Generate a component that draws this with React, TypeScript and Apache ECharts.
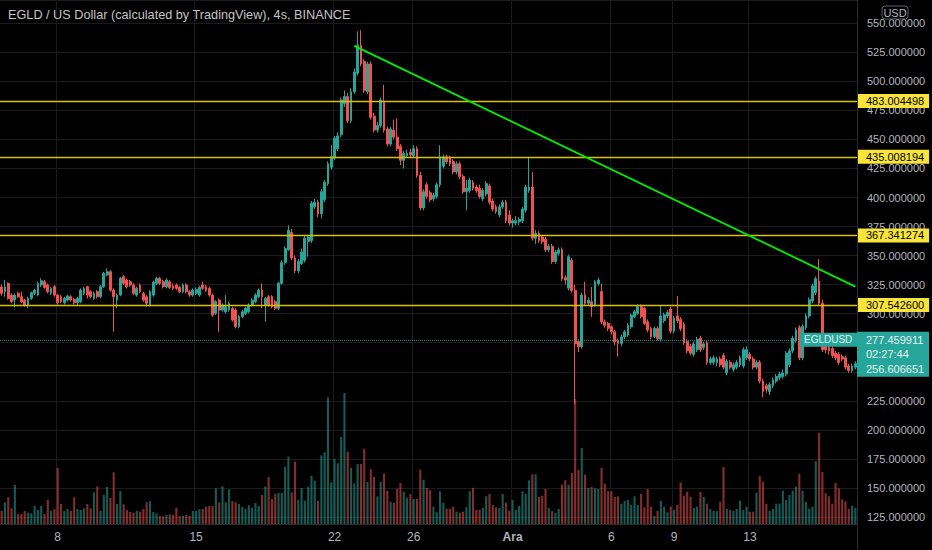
import React, { useEffect, useRef } from "react";
import * as echarts from "echarts";

const TITLE = "EGLD / US Dollar (calculated by TradingView), 4s, BINANCE";

// 4h candles: [open, close, low, high]
const OHLC: [number, number, number, number][] = [
  [323,317.5,315.5,325],[319,323,314.5,329],[326,313,312,327],[316,310.3,309,317.5],[311.7,316,305.4,317.5],
  [317.5,314.6,313.5,319],[314.6,310.3,309,319],[311.7,307.4,306,313],[307.4,313.2,304.6,314.6],[313.2,318,312,319],
  [317.5,320.3,316,321.5],[316,326.1,315,327.5],[324.7,328.4,323,330.5],[327.5,322.6,321.5,329],[324.7,318.9,317.5,326],
  [317.5,321.8,316,323],[323.2,316,314.6,324.5],[316,309.4,308,317],[314.6,310.3,309,316],[309.4,313.2,308,314.6],
  [311.7,315.2,310.3,316.5],[314.6,311.7,310.3,316],[312.3,309.4,308,313.5],[309.4,313.2,307.4,314.6],[310.3,320.3,309,321.8],
  [317.5,321.8,316,323.2],[323.2,316,313.2,323.8],[318.9,314.6,313.2,320.3],[313.2,317.5,312,318.9],[318.9,314.6,313.2,320.3],
  [314.6,323.2,313.2,324.7],[323.2,334.7,322,336],[333.3,336.1,332,339],[336.1,320.3,319,337.5],[320.3,314.6,284.5,321.8],
  [311.7,316,304.6,317.5],[316,330.4,315,331.8],[331.8,326.1,324.7,333.3],[329,323.2,321.8,330.4],[327.5,324.7,323.2,329],
  [324.7,317.5,316,326.1],[316,321.8,314.6,323.2],[324.7,318.9,317.5,326.1],[317.5,311.7,310.3,318.9],[314.6,308.9,306,316],
  [307.4,318.9,306,320.3],[316,327,314.6,328.4],[326.1,330.4,324.7,331.8],[330.4,326.1,324.7,331.8],[327.5,323.2,321.8,329],
  [323.2,329,321.8,330.4],[327.5,322.6,321.2,329],[323.8,321.8,320.3,326.1],[324.7,321.8,320.3,326.1],[322.6,318.9,317.5,323.8],
  [318.9,324.7,317.5,326.1],[324.7,318.9,317.5,326.1],[318.9,316,314.6,320.3],[316,320.3,314.6,321.8],[317.5,320.9,316,322.6],
  [316,322.6,314.6,324],[324.7,321.8,320.3,327.5],[323.2,320.3,318.9,324.7],[321.8,316,314.6,323.2],[316,298.8,297.4,317.5],
  [300.3,310.3,298.8,311.7],[311.7,303.1,284.5,313.2],[303.1,307.4,301.7,308.9],[301.7,306,300.3,316],[303.1,308.9,301.7,310.3],
  [304.6,294.5,293.1,306],[303.1,288.8,287.4,304.6],[288.8,297.4,287.4,298.8],[297.4,301.7,296,303.1],[300.3,304.6,298.8,306],
  [301.7,307.4,300.3,308.9],[307.4,311.7,306,313.2],[310.3,316,308.9,317.5],[314.6,320.3,313.2,321.8],[320.3,314.6,304.6,326.1],
  [307.4,313.2,293.1,314.6],[314.6,307.4,306,316],[314.6,306,304.6,316],[310.3,304.6,303.1,311.7],[304.6,326.1,303.1,327.5],
  [326.1,344,325,346],[344,356,342,358],
  [355,372,354,376],[370,348,346,373],[348,337,335,350],[337,345,335,347],[343,353,342,356],
  [346,365,344,367],[362,366,349,368],[363,395,361,397],[392,396,390,399],[396,386,383,398],
  [386,405,382,407],[398,413,396,415],[412,429,410,431],[426,435,424,445],[434,451,432,453],
  [442,453,440,456],[454,484,452,486],[481,487,478,492],[487,466,464,490],[466,491,464,494],
  [491,508,489,511],[507,531,505,543],[531,515,513,544],[517,492,490,519],[491,515,489,517],
  [515,469,467,517],[470,458,456,473],[458,462,456,465],[462,484,460,486],[482,458,456,497],
  [459,446,444,461],[446,459,444,461],[458,452,450,467],[452,442,440,468],[444,432,428,446],
  [432,438,425,440],[436,438,434,441],[439,437,434,442],[436,442,434,445],[442,419,417,444],
  [419,391,389,422],[391,405,389,407],[411,401,399,413],[404,398,396,406],[399,402,397,404],
  [401,411,399,413],[411,435,409,445],[427,435,425,437],[435,431,429,437],[434,429,427,436],
  [431,422,420,433],[422,429,420,431],[429,418,416,431],[418,405,403,420],
  [405,408,389,415],[406,415,404,417],[413,408,406,415],[409,406,404,411],[408,401,399,411],
  [399,406,397,408],[403,412,401,414],[410,396,394,412],[397,390,388,399],[392,388,386,394],
  [385,392,383,394],[392,396,390,398],[396,380,378,398],[385,378,376,389],[378,380,374,382],
  [378,380,376,384],[379,381,376,383],[380,390,378,392],[389,409,387,411],[406,409,404,435],
  [409,365,363,422],[365,369,360,372],[369,363,361,371],[366,362,360,368],[364,355,353,366],
  [355,358,353,360],[358,345,343,360],[345,353,343,355],[352,355,350,357],[355,330,328,357],
  [331,329,325,333],[322,349,320,351],[346,320,318,348],[320,274,222,325],[276,271.5,267,278],
  [271.5,316,270,318],[316,309,307,327.5],[309,311.7,307,314],[310.3,306,297.3,323],[307.4,327.5,306,329],
  [326,329,324,331],[319,293,291,326],[293,290,288,295],[291.5,287.5,285,293],[288.7,284.4,282,290],
  [284.4,275.8,273,286],[277,274.4,263,278.5],[274.4,280,272,282],[280,284.4,278,286],[281.6,290,280,292],
  [288.7,298.8,287,300],[297.3,301.7,296,303],[300.2,306,299,308],[306,297.3,296,308],[304.5,291.6,290,306],
  [293,285.9,284,295],[287.3,280.1,278,289],[280.1,287.3,279,289],[287.3,278.7,277,289],
  [278,298,276,307],[294,299,292,301],[298,301,296,303],[304,285,283,306],[285,296,283,298],
  [298,294,292,315],[295,287,285,297],[291,275,273,293],[276,268,266,278],[272,266,264,274],
  [265,274,263,276],[269,278,267,280],[279,269,267,281],[271,274,269,276],[275,258,256,277],
  [258,261,256,263],[258,262,256,264],[258,261,255,263],[261,256,254,263],[264,254,252,266],
  [249,259,247,261],[258,254,252,260],[252,256,250,258],[254,258,252,260],[256,262,254,264],
  [255,269,253,271],[262,269,260,272],[265,261,259,267],[261,254,252,263],[254,258,252,260],
  [258,242,240,260],[242,233,228,244],[238,235,232,240],[233,239,230,241],[238,243,236,245],
  [242,246,240,248],[245,248,243,250],[246,249,244,252],[248,266,246,268],[256,268,254,270],
  [268,279,266,281],[277,286,275,288],[288,262,260,290],[262,289,260,291],[288,298,286,300],
  [298,312,296,314],[311,324,309,326],[318,330,316,332],[328,309,307,347],[309,269,267,312],
  [272,269,266,274],[271,268,265,273],[270,264,262,272],[266,262,260,268],[265,258,256,267],
  [263,261,259,265],[262,254,252,264],[255,251,249,257],[251,255,249,257],[254,257,252,259],
];

// volume per candle (relative units)
const VOLUMES: number[] = [
  13.3,21.7,26.7,15.7,39,10,10,13,11.3,10.7,
  18,14,18,10,24,13.3,15,56,20,13,
  15,13.3,26.7,15,14,15.7,20,15.7,31.7,37.7,
  13.3,29,37,26,51.7,20,33,19.7,14,12,
  11.3,13.3,12.3,15,21.7,23,12,10.7,8,7.7,
  9,9.7,9.3,16.3,8,8,9,8.3,13,13.3,
  14.7,15,17.3,18,18,35.7,21.7,37.7,21.7,34.7,
  23,21.7,20,17,15,18.7,16.3,21,18,29,
  37.7,47,25,30.3,31,31,57.3,67.3,
  31.7,62.3,24.3,36,23.3,37.3,48.3,43.3,23.3,68.7,
  71.7,126.7,41.7,65.3,60.7,87,131,72.3,56.3,40.7,
  60,60,75.3,42,54.7,47,27.7,42,50.3,33,
  22.3,21.3,35.3,41,32.3,26.3,30,25,25,54.3,
  44.3,36,33.7,17.3,11.7,32.7,21.3,15.3,15.3,17.3,
  12.3,11.3,12.3,16.7,32.7,36,14,14,16,27.7,
  30,19,16.7,16,30,21.3,13.3,24,14.3,18,
  32.7,30,43.7,49.7,49.7,27,28.3,35,16,13,
  11.3,15,39.3,43.7,39.3,51,
  125,54.3,76,49.3,36,37,35.7,35,56,40.3,
  32.7,32.7,27,27.7,20.3,23,24,19.3,27.7,19,
  30,16.7,35,17.3,8,13.3,23.3,17.3,11.7,17.3,
  14,19,41.7,28.3,32.3,27,16,17.3,32,27,
  20.3,15,13,13,22.3,57,15,14,13.3,15,
  23.3,14,17.3,12.3,12.3,31.3,48.3,42.3,20.3,13.3,
  15,20.3,20.3,33.3,24,29,33.3,37.3,50.3,33.3,
  22,15.3,17.3,62.7,91.3,52,30.7,27.7,20.3,41,
  35.7,24.7,22.7,15.3,18.3,16,
];

// time axis labels: [candle index, label]
const TIME_TICKS: [number, string][] = [
  [17, "8"], [59, "15"], [101, "22"], [125, "26"], [155, "Ara"], [185, "6"], [204, "9"], [227, "13"],
];

// price-axis labels hidden under the last-price box in the reference
const COVERED_PRICE_LABELS: number[] = [275, 250];

const LEVELS: number[] = [483.004498, 435.008194, 367.341274, 307.5426];
const TREND_START: [number, number] = [107, 530.5];
const TREND_END: [number, number] = [259, 323.3];
const LAST_PRICE = 277.459911;
const LAST_PRICE_TEXT = "277.459911";
const COUNTDOWN_TEXT = "02:27:44";
const SECOND_PRICE_TEXT = "256.606651";
const SYMBOL = "EGLDUSD";
const CURRENCY = "USD";

const PRICE_MIN = 125;
const PRICE_MAX = 570;
const PRICE_STEP = 25;
const VOLUME_AXIS_MAX = 524;

const UP = "#26a69a";
const DOWN = "#ef5350";
const TEXT = "#b2b5be";
const GRID_LINE = "#1b1b1b";
const LEVEL_LINE = "#d9c100";
const FONT = "'Liberation Sans', Arial, sans-serif";

export default function App() {
  const ref = useRef<HTMLDivElement>(null);

  useEffect(() => {
    if (!ref.current) return;
    const chart = echarts.init(ref.current, null, { renderer: "svg" });
    const categories = OHLC.map((_, i) => String(i));
    const tickMap = new Map<number, string>(TIME_TICKS);
    const isTick = (idx: number) => tickMap.has(idx);

    chart.setOption({
      animation: false,
      backgroundColor: "#000000",
      textStyle: { fontFamily: FONT },
      grid: [
        { left: 0, right: 75, top: 0, bottom: 33, outerBoundsMode: "none" },
        { left: 0, right: 75, top: 0, bottom: 26, outerBoundsMode: "none" },
      ],
      xAxis: [
        { type: "category", gridIndex: 0, data: categories, show: false },
        {
          type: "category",
          gridIndex: 1,
          data: categories,
          axisLine: { show: true, lineStyle: { color: "#2c2c2c" } },
          axisTick: { show: false },
          axisLabel: {
            interval: (idx: number) => isTick(idx),
            formatter: (_v: string, idx: number) => {
              const t = tickMap.get(idx);
              if (t === undefined) return "";
              return t === "Ara" ? "{b|Ara}" : t;
            },
            color: TEXT,
            fontSize: 12,
            margin: 7,
            rich: { b: { fontWeight: "bold", color: TEXT, fontSize: 12, fontFamily: FONT } },
          },
          splitLine: {
            show: true,
            interval: (idx: number) => isTick(idx),
            lineStyle: { color: GRID_LINE, width: 1 },
          },
        },
      ],
      yAxis: [
        {
          type: "value",
          gridIndex: 0,
          position: "right",
          min: PRICE_MIN,
          max: PRICE_MAX,
          interval: PRICE_STEP,
          axisLine: { show: false },
          axisTick: { show: false },
          splitLine: { show: true, lineStyle: { color: GRID_LINE, width: 1 } },
          axisLabel: {
            color: TEXT,
            fontSize: 11,
            margin: 10,
            showMaxLabel: false,
            formatter: (v: number) =>
              Math.abs(v % PRICE_STEP) < 1e-6 && !COVERED_PRICE_LABELS.includes(v)
                ? v.toFixed(6)
                : "",
          },
        },
        { type: "value", gridIndex: 1, min: 0, max: VOLUME_AXIS_MAX, show: false },
      ],
      series: [
        {
          type: "bar",
          name: "Volume",
          xAxisIndex: 1,
          yAxisIndex: 1,
          barWidth: "64%",
          silent: true,
          z: 1,
          data: VOLUMES.map((v, i) => {
            const c = OHLC[i];
            const up = c ? c[1] >= c[0] : true;
            return {
              value: v,
              itemStyle: { color: up ? "rgba(38,166,154,0.55)" : "rgba(239,83,80,0.55)" },
            };
          }),
        },
        {
          type: "candlestick",
          name: "EGLDUSD",
          xAxisIndex: 0,
          yAxisIndex: 0,
          barWidth: "70%",
          silent: true,
          z: 3,
          itemStyle: {
            color: UP,
            color0: DOWN,
            borderColor: UP,
            borderColor0: DOWN,
            borderWidth: 1,
          },
          data: OHLC,
          markLine: {
            silent: true,
            symbol: ["none", "none"],
            animation: false,
            lineStyle: { color: LEVEL_LINE, width: 1.3, type: "solid", opacity: 1 },
            emphasis: { disabled: true },
            data: [
              ...LEVELS.map((v) => ({
                yAxis: v,
                lineStyle: { color: LEVEL_LINE, width: 1.3, type: "solid", opacity: 1 },
                label: {
                  show: true,
                  position: "end",
                  distance: 0,
                  formatter: v.toFixed(6),
                  backgroundColor: "#f9e43a",
                  color: "#000000",
                  fontSize: 11,
                  fontFamily: FONT,
                  padding: [2, 5, 1, 9],
                },
              })),
              {
                yAxis: LAST_PRICE,
                lineStyle: { color: "rgba(38,166,154,0.85)", width: 1, type: "dotted" },
                label: { show: false },
              },
              [
                {
                  coord: TREND_START,
                  lineStyle: { color: "#00ee00", width: 1.8, type: "solid" },
                  label: { show: false },
                },
                { coord: TREND_END },
              ],
            ],
          },
        },
      ],
    });

    const yLast = chart.convertToPixel({ yAxisIndex: 0 }, LAST_PRICE) as number;
    const txt = (x: number, y: number, text: string, fill: string, size: number, align = "left", weight = "normal") => ({
      type: "text",
      x,
      y,
      z: 100,
      silent: true,
      style: {
        text,
        fill,
        fontSize: size,
        fontFamily: FONT,
        fontWeight: weight,
        textAlign: align,
        align,
        textVerticalAlign: "middle",
        verticalAlign: "middle",
      },
    });

    chart.setOption({
      graphic: {
        elements: [
          txt(8, 15, TITLE, "#c4c4c4", 12.7),
          {
            type: "line",
            z: 90,
            silent: true,
            shape: { x1: 857.5, y1: 0, x2: 857.5, y2: 550 },
            style: { stroke: "#2c2c2c", lineWidth: 1 },
          },
          {
            type: "rect",
            z: 99,
            silent: true,
            shape: { x: 882, y: 6, width: 26, height: 13, r: 3 },
            style: { fill: "#000000", stroke: "#5d606b", lineWidth: 1 },
          },
          txt(895, 12.8, CURRENCY, TEXT, 11, "center"),
          {
            type: "rect",
            z: 99,
            silent: true,
            shape: { x: 800, y: yLast - 7, width: 57, height: 14 },
            style: { fill: UP },
          },
          txt(804, yLast, SYMBOL, "#e4f2ef", 10),
          {
            type: "rect",
            z: 99,
            silent: true,
            shape: { x: 857, y: yLast - 8, width: 72, height: 45 },
            style: { fill: UP },
          },
          txt(866, yLast, LAST_PRICE_TEXT, "#e4f2ef", 11),
          txt(866, yLast + 14.5, COUNTDOWN_TEXT, "#e4f2ef", 11),
          txt(866, yLast + 29, SECOND_PRICE_TEXT, "#e4f2ef", 11),
        ],
      },
    });

    return () => chart.dispose();
  }, []);

  return (
    <div
      ref={ref}
      style={{ position: "fixed", left: 0, top: 0, width: 932, height: 550, background: "#000" }}
    />
  );
}
